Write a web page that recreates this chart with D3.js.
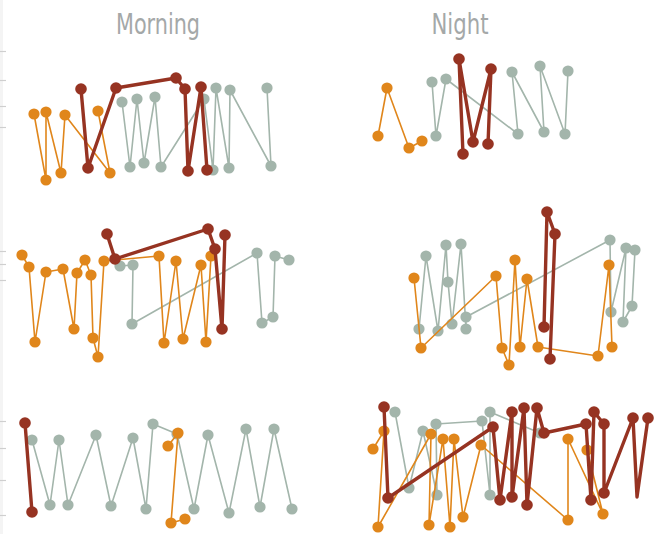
<!DOCTYPE html>
<html>
<head>
<meta charset="utf-8">
<script src="https://cdn.jsdelivr.net/npm/d3@7"></script>
<style>
  html, body { margin: 0; padding: 0; background: #ffffff; }
  svg { display: block; }
</style>
</head>
<body>
<svg id="chart" width="660" height="534"></svg>
<script>
// ---------- data ----------
const columns = ["Morning", "Night"];
const seriesNames = ["gray", "orange", "red"];
const seriesColors = { gray: "#a3b5ab", orange: "#e0861b", red: "#963322" };

// Row 1
const morning1Gray = [[122,88],[130,23],[137,91],[144,27],[155,93],[161,23],[204,91],[213,20],[216,102],[229,22],[230,100],[271,24],[267,102]];
const morning1Orange = [[34,76],[46,10],[46,78],[61,17],[65,75],[110,17],[98,79]];
const morning1Red = [[81,101],[88,22],[116,102],[176,112],[185,101],[188,19],[201,103],[207,20]];
const night1Gray = [[102,108],[106,54],[116,111],[188,56],[182,118],[214,58],[210,124],[235,56],[238,119]];
const night1Orange = [[48,54],[57,102],[79,42],[92,49]];
const night1Red = [[133,36],[129,131],[143,48],[161,121],[158,46]];

// Row 2
const morning2Gray = [[120,109],[133,110],[132,51],[257,122],[262,52],[273,58],[275,119],[289,115]];
const morning2Orange = [[22,120],[29,108],[35,33],[46,103],[63,106],[74,46],[77,102],[85,115],[91,100],[93,37],[98,18],[104,114],[159,119],[164,32],[176,114],[183,36],[201,110],[206,33],[211,119]];
const morning2Red = [[107,141],[115,116],[208,146],[215,126],[222,46],[225,140]];
const night2Gray = [[89,46],[96,119],[108,44],[116,130],[118,93],[122,51],[131,131],[136,46],[136,58],[280,135],[281,63],[296,127],[293,53],[302,69],[305,125]];
const night2Orange = [[84,97],[91,27],[166,99],[172,27],[179,10],[185,115],[190,28],[197,96],[208,28],[268,19],[279,110],[282,28]];
const night2Red = [[214,48],[217,163],[225,141],[220,16]];

// Row 3
const morning3Gray = [[32,94],[50,29],[59,94],[68,29],[96,99],[111,28],[133,96],[146,25],[153,110],[177,100],[194,25],[208,99],[229,21],[246,105],[260,27],[274,105],[292,25]];
const morning3Orange = [[168,88],[178,101],[171,11],[185,15]];
const morning3Red = [[25,111],[32,22]];
const night3Gray = [[65,122],[79,46],[93,103],[107,39],[106,110],[152,113],[160,39],[160,122],[210,101]];
const night3Orange = [[43,85],[54,103],[48,7],[101,100],[99,9],[113,95],[120,7],[124,95],[133,17],[151,89],[238,14],[238,95],[273,20],[257,84]];
const night3Red = [[54,127],[58,36],[163,107],[170,34],[182,122],[182,37],[194,126],[197,29],[207,126],[214,101],[256,110],[261,34],[264,122],[274,110],[274,41],[303,116],[307,37],[318,116]];
const night3RedNoMarker = [16];

// y-axis ticks on the left edge (one list per row)
const row1Ticks = [139, 110, 84, 63];
const row2Ticks = [124, 111, 95];
const row3Ticks = [113, 86, 54, 19];

// ---------- layout ----------
const panels = [
  { col: 0, row: 0, gray: morning1Gray, orange: morning1Orange, red: morning1Red },
  { col: 1, row: 0, gray: night1Gray, orange: night1Orange, red: night1Red },
  { col: 0, row: 1, gray: morning2Gray, orange: morning2Orange, red: morning2Red },
  { col: 1, row: 1, gray: night2Gray, orange: night2Orange, red: night2Red },
  { col: 0, row: 2, gray: morning3Gray, orange: morning3Orange, red: morning3Red },
  { col: 1, row: 2, gray: night3Gray, orange: night3Orange, red: night3Red, redNoMarker: night3RedNoMarker }
];
const colLeft = [0, 330];
const rowBottom = [190, 375, 534];
const rowTicks = [row1Ticks, row2Ticks, row3Ticks];
const titleX = [158, 460];
const titleWidth = [84, 57];

const svg = d3.select("#chart");

// faint left axis band
svg.append("rect").attr("x", 0).attr("y", 0).attr("width", 3).attr("height", 534).attr("fill", "#f4f4f4");

rowTicks.forEach((ticks, r) => {
  const y = d3.scaleLinear().domain([0, 160]).range([rowBottom[r], rowBottom[r] - 160]);
  const ax = svg.append("g").attr("transform", "translate(0,0)")
    .call(d3.axisRight(y).tickValues(ticks).tickSize(6).tickFormat(""));
  ax.select(".domain").remove();
  ax.selectAll(".tick line").attr("stroke", "#cfcfcf").attr("stroke-width", 1.2);
});

// titles
columns.forEach((c, i) => {
  svg.append("text")
    .attr("x", titleX[i]).attr("y", 34)
    .attr("text-anchor", "middle")
    .attr("font-family", "'Liberation Sans Narrow', 'DejaVu Sans Condensed', 'Roboto', sans-serif")
    .attr("font-stretch", "condensed")
    .attr("font-size", 29)
    .attr("fill", "#a4a8a8")
    .attr("textLength", titleWidth[i])
    .attr("lengthAdjust", "spacingAndGlyphs")
    .text(c);
});

const styles = {
  gray: { width: 1.6, r: 5.6 },
  orange: { width: 1.6, r: 5.6 },
  red: { width: 3.4, r: 5.8 }
};

panels.forEach(p => {
  const x = d3.scaleLinear().domain([0, 330]).range([colLeft[p.col], colLeft[p.col] + 330]);
  const y = d3.scaleLinear().domain([0, 160]).range([rowBottom[p.row], rowBottom[p.row] - 160]);
  const line = d3.line().x(d => x(d[0])).y(d => y(d[1]));
  const g = svg.append("g");
  seriesNames.forEach(s => {
    const pts = p[s];
    const sg = g.append("g");
    sg.append("path").datum(pts)
      .attr("d", line)
      .attr("fill", "none")
      .attr("stroke", seriesColors[s])
      .attr("stroke-width", styles[s].width)
      .attr("stroke-linejoin", "round")
      .attr("stroke-linecap", "round");
    const skip = (s === "red" && p.redNoMarker) ? p.redNoMarker : [];
    sg.selectAll("circle").data(pts.filter((d, i) => !skip.includes(i)))
      .join("circle")
      .attr("cx", d => x(d[0]))
      .attr("cy", d => y(d[1]))
      .attr("r", styles[s].r)
      .attr("fill", seriesColors[s]);
  });
});
</script>
</body>
</html>
